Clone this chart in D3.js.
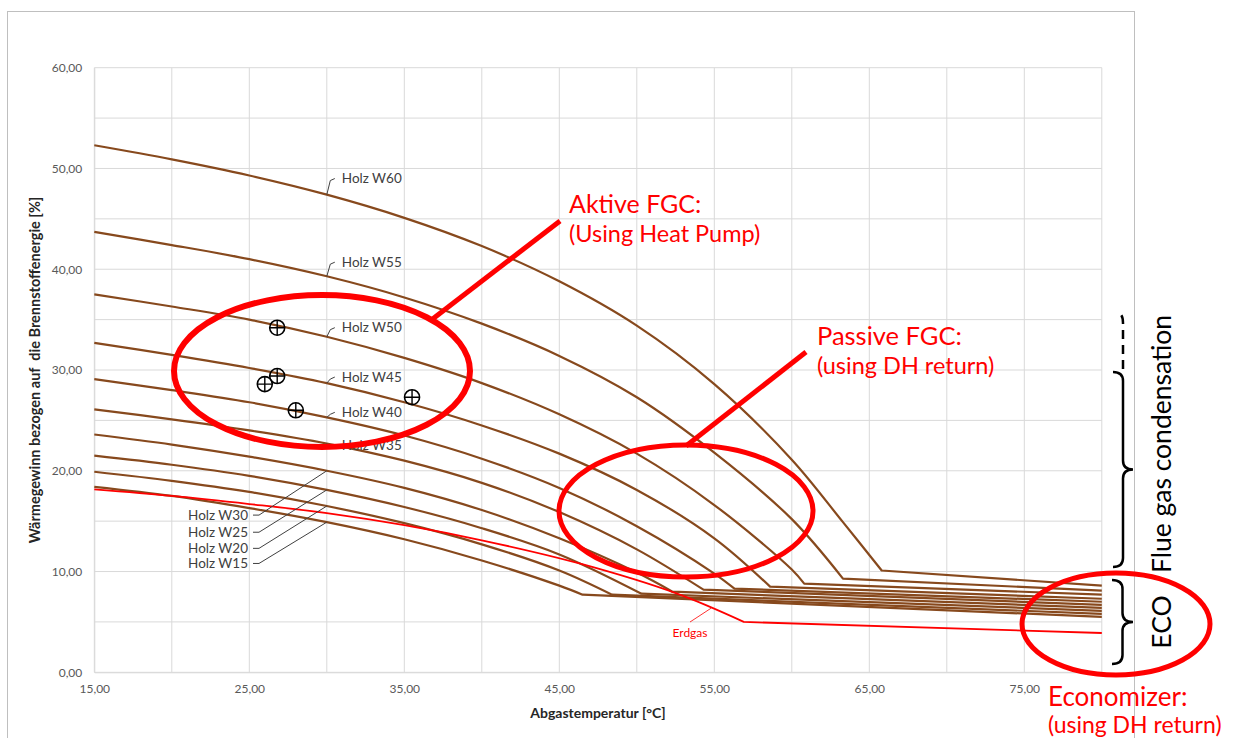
<!DOCTYPE html>
<html lang="de">
<head>
<meta charset="utf-8">
<title>Wärmegewinn Abgastemperatur</title>
<script src="https://cdn.jsdelivr.net/npm/d3@7"></script>
<style>
  body { margin: 0; background: #fff; }
  svg text { font-family: Lato, "Open Sans", sans-serif; }
</style>
</head>
<body>
<svg id="chart" width="1233" height="738"></svg>
<script>
// ---- data: [Abgastemperatur °C, Wärmegewinn %]
// condensation part (curved) ends at the kink, then a straight ECO segment to 80 °C
var holzW60 = [[15,52.3],[20,50.9],[25,49.3],[30,47.4],[35,45.1],[40,42.3],[45,38.8],[50,34.4],[55,28.6],[60,21.1],[63.3,14.9],[65.8,10.1]];
var holzW55 = [[15,43.7],[20,42.4],[25,41.0],[30,39.3],[35,37.2],[40,34.6],[45,31.4],[50,27.3],[55,21.8],[60,15.2],[63.3,9.3]];
var holzW50 = [[15,37.5],[20,36.3],[25,35.0],[30,33.3],[35,31.2],[40,28.7],[45,25.6],[50,21.7],[55,16.6],[60,10.2],[60.8,8.8]];
var holzW45 = [[15,32.7],[20,31.5],[25,30.2],[30,28.7],[35,26.8],[40,24.5],[45,21.7],[50,18.1],[55,13.3],[58.6,8.5]];
var holzW40 = [[15,29.1],[20,28.0],[25,26.8],[30,25.3],[35,23.5],[40,21.2],[45,18.3],[50,14.5],[55,9.8],[56.3,8.3]];
var holzW35 = [[15,26.1],[20,25.1],[25,24.0],[30,22.7],[35,21.0],[40,18.8],[45,15.9],[50,12.2],[54.3,8.2]];
var holzW30 = [[15,23.6],[20,22.6],[25,21.4],[30,20.0],[35,18.3],[40,16.1],[45,13.3],[50,9.9],[52.3,8.0]];
var holzW25 = [[15,21.5],[20,20.6],[25,19.5],[30,18.1],[35,16.4],[40,14.3],[45,11.7],[50.3,7.8]];
var holzW20 = [[15,19.9],[20,19.0],[25,17.9],[30,16.5],[35,14.8],[40,12.7],[45,10.1],[48.4,7.7]];
var holzW15 = [[15,18.4],[20,17.5],[25,16.3],[30,14.9],[35,13.2],[40,11.1],[45,8.6],[46.5,7.7]];
var erdgas  = [[15,18.15],[20,17.5],[25,16.7],[30,15.8],[35,14.6],[40,13.1],[46.3,10.8],[52.6,7.8],[56.9,5.0]];
var erdgasEnd = 3.9;   // value at 80 °C

var holzNames = ["Holz W60","Holz W55","Holz W50","Holz W45","Holz W40","Holz W35","Holz W30","Holz W25","Holz W20","Holz W15"];
var holzCurves = [holzW60, holzW55, holzW50, holzW45, holzW40, holzW35, holzW30, holzW25, holzW20, holzW15];
var ecoEnd = [8.6, 8.1, 7.7, 7.3, 7.0, 6.7, 6.4, 6.1, 5.8, 5.5];   // value at 80 °C

// measured points (circled crosses)
var messpunkte = [[26.8,34.2],[26.8,29.4],[26.0,28.6],[28.0,26.0],[35.5,27.3]];

var xTicks = [15,25,35,45,55,65,75];
var yTicks = [0,10,20,30,40,50,60];

// label placement (data units) for the series names
var labelYTop = [49.0, 40.7, 34.2, 29.3, 25.8, 22.5];   // W60..W35, right of the leader
var labelYLeft = [15.7, 14.0, 12.4, 10.9];               // W30..W15, left of the leader

var svg = d3.select("#chart");
var brown = "#87491d", red = "#ff0000";

var x = d3.scaleLinear().domain([15, 80]).range([94.3, 1101.8]);
var y = d3.scaleLinear().domain([0, 60]).range([672.3, 67.7]);
var fmt = function(v) { return d3.format(".2f")(v).replace(".", ","); };

// outer chart frame
svg.append("rect").attr("x", 7.5).attr("y", 11.5).attr("width", 1127).attr("height", 740)
  .attr("fill", "none").attr("stroke", "#bfbfbf").attr("stroke-width", 1);

// grid
var grid = svg.append("g");
grid.selectAll("line.v").data(d3.range(15, 80.1, 5)).join("line")
  .attr("x1", d => x(d)).attr("x2", d => x(d)).attr("y1", y(0)).attr("y2", y(60))
  .attr("stroke", "#d9d9d9").attr("stroke-width", 1);
grid.selectAll("line.h").data(d3.range(0, 60.1, 5)).join("line")
  .attr("x1", x(15)).attr("x2", x(80)).attr("y1", d => y(d)).attr("y2", d => y(d))
  .attr("stroke", "#d9d9d9").attr("stroke-width", 1);

// axes (labels only)
var xAxis = d3.axisBottom(x).tickValues(xTicks).tickFormat(fmt).tickSize(0).tickPadding(12);
var gx = svg.append("g").attr("transform", "translate(0," + y(0) + ")").call(xAxis);
var yAxis = d3.axisLeft(y).tickValues(yTicks).tickFormat(fmt).tickSize(0).tickPadding(12);
var gy = svg.append("g").attr("transform", "translate(" + x(15) + ",0)").call(yAxis);
[gx, gy].forEach(function(g) {
  g.select(".domain").attr("stroke", "#d9d9d9");
  g.selectAll("text").attr("fill", "#595959").style("font-size", "12px")
    .style("font-family", "Lato, sans-serif");
});

svg.append("text").attr("x", 598).attr("y", 718).attr("text-anchor", "middle")
  .style("font-size", "14px").style("font-weight", "bold").attr("fill", "#262626")
  .text("Abgastemperatur [°C]");
svg.append("text").attr("transform", "translate(40,370) rotate(-90)").attr("text-anchor", "middle")
  .style("font-size", "14.5px").style("font-weight", "bold").style("white-space", "pre").attr("fill", "#262626")
  .text("Wärmegewinn bezogen auf  die Brennstoffenergie [%]");

// curves
var line = d3.line().x(d => x(d[0])).y(d => y(d[1])).curve(d3.curveCatmullRom.alpha(0.5));
var lines = svg.append("g").attr("fill", "none");
holzCurves.forEach(function(c, i) {
  lines.append("path")
    .attr("d", line(c) + "L" + x(80) + "," + y(ecoEnd[i]))
    .attr("stroke", brown).attr("stroke-width", 2.2).attr("stroke-linejoin", "round");
});
lines.append("path")
  .attr("d", line(erdgas) + "L" + x(80) + "," + y(erdgasEnd))
  .attr("stroke", red).attr("stroke-width", 1.8);

function valueAt(c, xv) {
  for (var k = 0; k < c.length - 1; k++) {
    if (xv >= c[k][0] && xv <= c[k + 1][0]) {
      var t = (xv - c[k][0]) / (c[k + 1][0] - c[k][0]);
      return c[k][1] + t * (c[k + 1][1] - c[k][1]);
    }
  }
  return c[c.length - 1][1];
}

// series labels with leaders
var lab = svg.append("g");
labelYTop.forEach(function(ly, i) {
  var px = x(30), py = y(valueAt(holzCurves[i], 30)), ty = y(ly);
  lab.append("path").attr("d", "M" + px + "," + py + "L" + (px + 3.5) + "," + (ty + 2) + "L" + (px + 8) + "," + ty)
    .attr("fill", "none").attr("stroke", "#404040").attr("stroke-width", 1);
  lab.append("text").attr("x", px + 15).attr("y", ty).attr("dy", "0.35em")
    .style("font-size", "13.5px").attr("fill", "#404040").text(holzNames[i]);
});
labelYLeft.forEach(function(ly, j) {
  var i = j + 6;
  var px = x(30), py = y(valueAt(holzCurves[i], 30)), ty = y(ly) + 1;
  lab.append("path").attr("d", "M" + px + "," + py + "L" + 259 + "," + ty + "L" + 253 + "," + ty)
    .attr("fill", "none").attr("stroke", "#404040").attr("stroke-width", 1);
  lab.append("text").attr("x", 248).attr("y", ty).attr("dy", "0.35em").attr("text-anchor", "end")
    .style("font-size", "13.5px").attr("fill", "#404040").text(holzNames[i]);
});
// Erdgas label
var ex = x(54.8), ey = y(valueAt(erdgas, 54.8));
lab.append("line").attr("x1", ex).attr("y1", ey).attr("x2", 690).attr("y2", 622)
  .attr("stroke", red).attr("stroke-width", 0.8);
lab.append("text").attr("x", 690).attr("y", 633).attr("dy", "0.35em").attr("text-anchor", "middle")
  .style("font-size", "12px").attr("fill", red).text("Erdgas");

// measured points
var mp = svg.append("g").selectAll("g").data(messpunkte).join("g")
  .attr("transform", d => "translate(" + x(d[0]) + "," + y(d[1]) + ")");
mp.append("circle").attr("r", 7.5).attr("fill", "none").attr("stroke", "#000").attr("stroke-width", 1.6);
mp.append("path").attr("d", "M-7.5,0H7.5M0,-7.5V7.5").attr("stroke", "#000").attr("stroke-width", 1.4);

// ---- annotations
var ann = svg.append("g");
ann.append("ellipse").attr("cx", 322).attr("cy", 371).attr("rx", 148).attr("ry", 76)
  .attr("fill", "none").attr("stroke", red).attr("stroke-width", 6);
ann.append("line").attr("x1", 430).attr("y1", 321).attr("x2", 560).attr("y2", 221)
  .attr("stroke", red).attr("stroke-width", 5);
ann.append("text").attr("x", 569).attr("y", 213).style("font-size", "25px").attr("fill", red).text("Aktive FGC:");
ann.append("text").attr("x", 569).attr("y", 242).style("font-size", "23.5px").attr("fill", red).text("(Using Heat Pump)");

ann.append("ellipse").attr("cx", 686).attr("cy", 511).attr("rx", 127).attr("ry", 66)
  .attr("fill", "none").attr("stroke", red).attr("stroke-width", 5);
ann.append("line").attr("x1", 686).attr("y1", 446).attr("x2", 806).attr("y2", 352)
  .attr("stroke", red).attr("stroke-width", 5);
ann.append("text").attr("x", 817).attr("y", 345).style("font-size", "25.5px").attr("fill", red).text("Passive FGC:");
ann.append("text").attr("x", 817).attr("y", 374).style("font-size", "23.5px").attr("fill", red).text("(using DH return)");

ann.append("ellipse").attr("cx", 1116).attr("cy", 624).attr("rx", 94).attr("ry", 51)
  .attr("fill", "none").attr("stroke", red).attr("stroke-width", 5);
ann.append("text").attr("x", 1048).attr("y", 706).style("font-size", "26px").attr("fill", red).text("Economizer:");
ann.append("text").attr("x", 1048).attr("y", 733).style("font-size", "23px").attr("fill", red).text("(using DH return)");

// braces
function brace(x0, y1, y2, w) {
  var xm = x0 + w / 2, ym = (y1 + y2) / 2, r = 9;
  return "M" + x0 + "," + y1 + "Q" + xm + "," + y1 + " " + xm + "," + (y1 + r) +
    "L" + xm + "," + (ym - r) + "Q" + xm + "," + ym + " " + (x0 + w) + "," + ym +
    "Q" + xm + "," + ym + " " + xm + "," + (ym + r) +
    "L" + xm + "," + (y2 - r) + "Q" + xm + "," + y2 + " " + x0 + "," + y2;
}
ann.append("path").attr("d", brace(1113, 372, 567, 20)).attr("fill", "none").attr("stroke", "#000").attr("stroke-width", 2.5);
ann.append("path").attr("d", brace(1112, 580, 664, 21)).attr("fill", "none").attr("stroke", "#000").attr("stroke-width", 2.5);
ann.append("path").attr("d", "M1123,369L1123,323Q1123,313 1117,313")
  .attr("fill", "none").attr("stroke", "#000").attr("stroke-width", 2.5).attr("stroke-dasharray", "9,6");

ann.append("text").attr("transform", "translate(1171,444) rotate(-90)").attr("text-anchor", "middle")
  .style("font-size", "26.5px").attr("fill", "#000").text("Flue gas condensation");
ann.append("text").attr("transform", "translate(1171,622) rotate(-90)").attr("text-anchor", "middle")
  .style("font-size", "26.5px").attr("fill", "#000").text("ECO");
</script>
</body>
</html>
